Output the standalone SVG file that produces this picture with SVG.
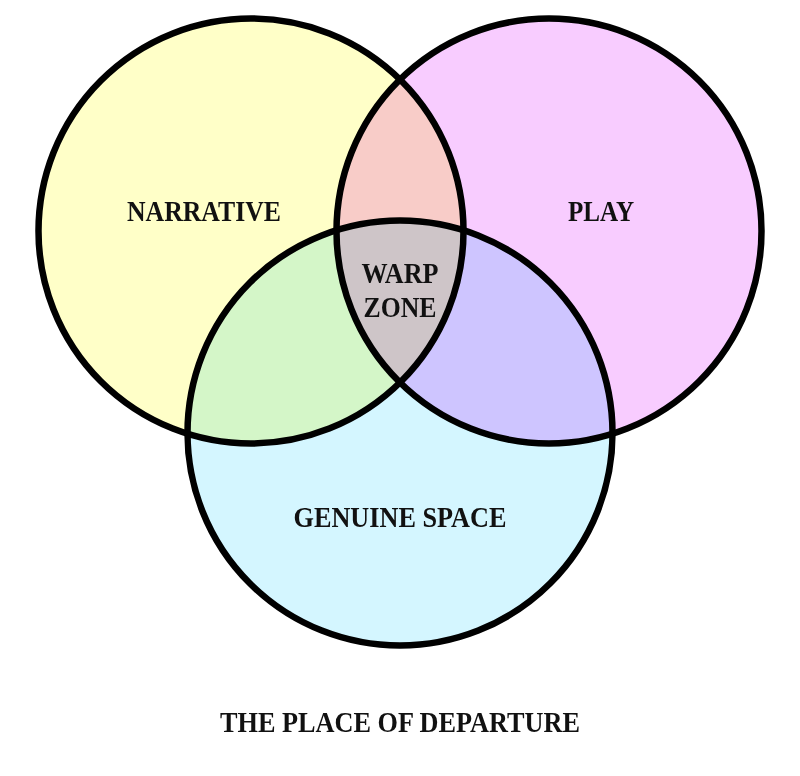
<svg xmlns="http://www.w3.org/2000/svg" width="800" height="776" viewBox="0 0 800 776">
<style>
.fill{mix-blend-mode:multiply}
.ring{fill:none;stroke:#000;stroke-width:6.5}
.lbl{font-family:"Liberation Serif","DejaVu Serif",serif;font-weight:bold;font-size:29px;fill:#111;text-anchor:middle}
</style>
<rect width="800" height="776" fill="#fff"/>
<g id="fills" style="isolation:isolate">
<circle class="fill" cx="251" cy="231" r="212.5" fill="#FFFFC8"/>
<circle class="fill" cx="549" cy="231" r="212.5" fill="#F8CCFF"/>
<circle class="fill" cx="400" cy="433" r="212.5" fill="#D4F6FF"/>
</g>
<g id="narrative"><circle class="ring" cx="251" cy="231" r="212.5"/><text class="lbl" x="204" y="221" textLength="154" lengthAdjust="spacingAndGlyphs">NARRATIVE</text></g>
<g id="play"><circle class="ring" cx="549" cy="231" r="212.5"/><text class="lbl" x="601" y="221" textLength="66" lengthAdjust="spacingAndGlyphs">PLAY</text></g>
<g id="genuine-space"><circle class="ring" cx="400" cy="433" r="212.5"/><text class="lbl" x="400" y="527" textLength="213" lengthAdjust="spacingAndGlyphs">GENUINE SPACE</text></g>
<g id="warp-zone"><text class="lbl" x="400" y="283" textLength="77" lengthAdjust="spacingAndGlyphs">WARP</text><text class="lbl" x="400" y="317" textLength="73" lengthAdjust="spacingAndGlyphs">ZONE</text></g>
<g id="title"><text class="lbl" x="400" y="732" textLength="360" lengthAdjust="spacingAndGlyphs">THE PLACE OF DEPARTURE</text></g>
<g id="connectors"/>
</svg>
